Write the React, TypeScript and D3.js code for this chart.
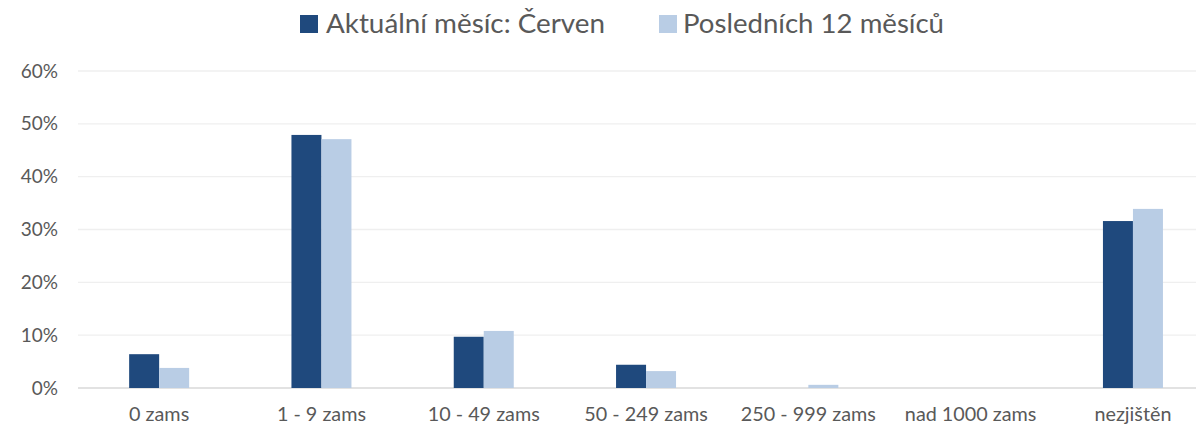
import React from "react";
import * as d3 from "d3";

const categories = ["0 zams", "1 - 9 zams", "10 - 49 zams", "50 - 249 zams", "250 - 999 zams", "nad 1000 zams", "nezjištěn"];
const seriesNames = ["Aktuální měsíc: Červen", "Posledních 12 měsíců"];
const currentMonth = [6.4, 47.9, 9.7, 4.4, 0, 0, 31.6];
const last12 = [3.8, 47.1, 10.8, 3.2, 0.6, 0, 33.9];
const yTicks = [0, 10, 20, 30, 40, 50, 60];
const colors = ["#1F497D", "#B9CDE5"];

const W = 1196;
const H = 427;
const FONT = "Lato, 'Open Sans', sans-serif";

export default function App() {
  const x = d3.scaleBand<string>().domain(categories).range([78, 78 + 7 * 162.3]).paddingInner(0).paddingOuter(0);
  const y = d3.scaleLinear().domain([0, 60]).range([388, 71]);
  const barW = 30;
  const series = [currentMonth, last12];

  return (
    <svg width={W} height={H} style={{ position: "absolute", left: 0, top: 0, background: "#fff" }} fontFamily={FONT}>
      <rect x={0} y={0} width={W} height={H} fill="#fff" />
      {yTicks.map((t) => (
        <g key={t}>
          <line x1={78} x2={W} y1={y(t)} y2={y(t)} stroke={t === 0 ? "#D9D9D9" : "#EFEFEF"} strokeWidth={t === 0 ? 1.5 : 1.3} />
          <text x={58} y={y(t)} dy="0.35em" textAnchor="end" fontSize={19} fill="#595959">{t}%</text>
        </g>
      ))}
      {categories.map((c, i) => {
        const cx = (x(c) as number) + x.bandwidth() / 2;
        return (
          <g key={c}>
            {series.map((s, k) => (
              s[i] > 0 ? (
                <rect key={k} x={cx - barW + k * barW} y={y(s[i])} width={barW} height={y(0) - y(s[i])} fill={colors[k]} />
              ) : null
            ))}
            <text x={cx} y={414} dy="0.35em" textAnchor="middle" fontSize={19.8} fill="#595959">{c}</text>
          </g>
        );
      })}
      <g>
        <rect x={300} y={15} width={18} height={18} fill={colors[0]} />
        <text x={326} y={24} dy="0.35em" fontSize={26.5} fill="#595959" textLength={279} lengthAdjust="spacingAndGlyphs">{seriesNames[0]}</text>
        <rect x={659} y={15} width={18} height={18} fill={colors[1]} />
        <text x={683} y={24} dy="0.35em" fontSize={26.5} fill="#595959" textLength={261} lengthAdjust="spacingAndGlyphs">{seriesNames[1]}</text>
      </g>
    </svg>
  );
}
